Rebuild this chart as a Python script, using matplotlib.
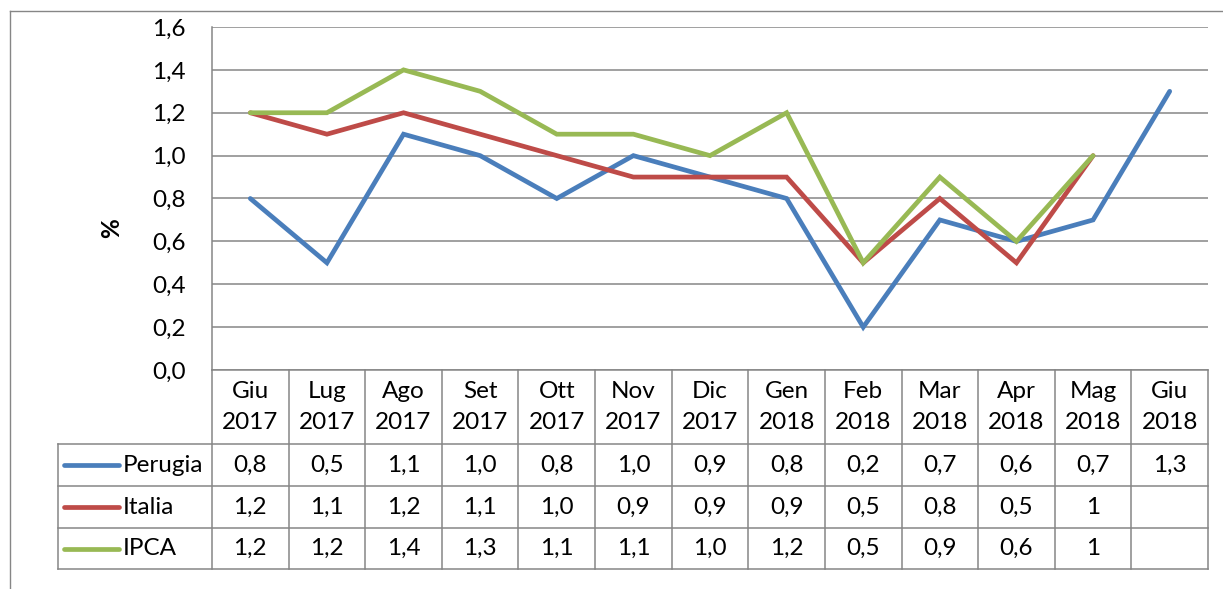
import matplotlib.pyplot as plt
from matplotlib.lines import Line2D

plt.rcParams['font.family'] = ['Lato', 'DejaVu Sans']

mesi = ['Giu', 'Lug', 'Ago', 'Set', 'Ott', 'Nov', 'Dic', 'Gen', 'Feb', 'Mar', 'Apr', 'Mag', 'Giu']
anni = ['2017'] * 7 + ['2018'] * 6
perugia = [0.8, 0.5, 1.1, 1.0, 0.8, 1.0, 0.9, 0.8, 0.2, 0.7, 0.6, 0.7, 1.3]
italia = [1.2, 1.1, 1.2, 1.1, 1.0, 0.9, 0.9, 0.9, 0.5, 0.8, 0.5, 1, None]
ipca = [1.2, 1.2, 1.4, 1.3, 1.1, 1.1, 1.0, 1.2, 0.5, 0.9, 0.6, 1, None]
serie = ['Perugia', 'Italia', 'IPCA']
colori = ['#4a7ebb', '#be4b48', '#98b954']
yticks = [0.0, 0.2, 0.4, 0.6, 0.8, 1.0, 1.2, 1.4, 1.6]

W, H = 1223, 589
fs = 17.5
fig = plt.figure(figsize=(W / 100, H / 100), dpi=100)
grigio = '#868686'

def fmt(v):
    if v is None:
        return ''
    if isinstance(v, int):
        return str(v)
    return ('%.1f' % v).replace('.', ',')

# cornice esterna
fig.add_artist(Line2D([10 / W, 1], [1 - 11 / H, 1 - 11 / H], transform=fig.transFigure, color=grigio, lw=1))
fig.add_artist(Line2D([10 / W, 10 / W], [0, 1 - 11 / H], transform=fig.transFigure, color=grigio, lw=1))

# grafico
ax = fig.add_axes([212 / W, (H - 370) / H, 996 / W, 343 / H])
x = list(range(len(mesi)))
dati = [perugia, italia, ipca]
for nome, vals, c in zip(serie, dati, colori):
    xs = [i for i, v in zip(x, vals) if v is not None]
    ys = [v for v in vals if v is not None]
    ax.plot(xs, ys, color=c, lw=3.4, solid_capstyle='round', solid_joinstyle='miter', zorder=3)
ax.set_xlim(-0.5, len(mesi) - 0.5)
ax.set_ylim(0, 1.6)
ax.set_yticks(yticks)
ax.set_yticklabels([('%.1f' % t).replace('.', ',') for t in yticks], fontsize=fs)
ax.set_xticks([])
ax.tick_params(axis='y', length=0, pad=19)
ax.grid(axis='y', color=grigio, lw=1.1)
ax.set_axisbelow(True)
for s in ['top', 'right']:
    ax.spines[s].set_visible(False)
ax.spines['left'].set_color(grigio)
ax.spines['bottom'].set_color(grigio)
ax.spines['left'].set_linewidth(1.1)
ax.spines['bottom'].set_linewidth(1.1)
ax.set_ylabel('%', fontsize=fs, fontweight='bold')
ax.yaxis.set_label_coords(-0.089, 0.414)

# tabella dati
tx = fig.add_axes([58 / W, (H - 569) / H, 1150 / W, 199 / H])
tx.set_xlim(-2.51, len(mesi) - 0.5)
tx.set_ylim(199, 0)
tx.axis('off')
righe = [74, 116, 158, 199]
for r in righe:
    tx.plot([-2.51, len(mesi) - 0.5], [r, r], color=grigio, lw=1.1, clip_on=False)
tx.plot([-2.51, -2.51], [74, 199], color=grigio, lw=1.1, clip_on=False)
for k in range(len(mesi) + 1):
    tx.plot([k - 0.5, k - 0.5], [0, 199], color=grigio, lw=1.1, clip_on=False)
for i, (m, a) in enumerate(zip(mesi, anni)):
    tx.text(i, 37, m + '\n' + a, ha='center', va='center', fontsize=fs, linespacing=1.6)
centri = [95, 137, 178.5]
for nome, vals, c, yc in zip(serie, dati, colori, centri):
    tx.plot([-2.43, -1.71], [yc, yc], color=c, lw=3.4, solid_capstyle='round')
    tx.text(-1.66, yc, nome, ha='left', va='center', fontsize=fs)
    for i, v in enumerate(vals):
        tx.text(i, yc, fmt(v), ha='center', va='center', fontsize=fs)

fig.savefig('out.png', dpi=100)
